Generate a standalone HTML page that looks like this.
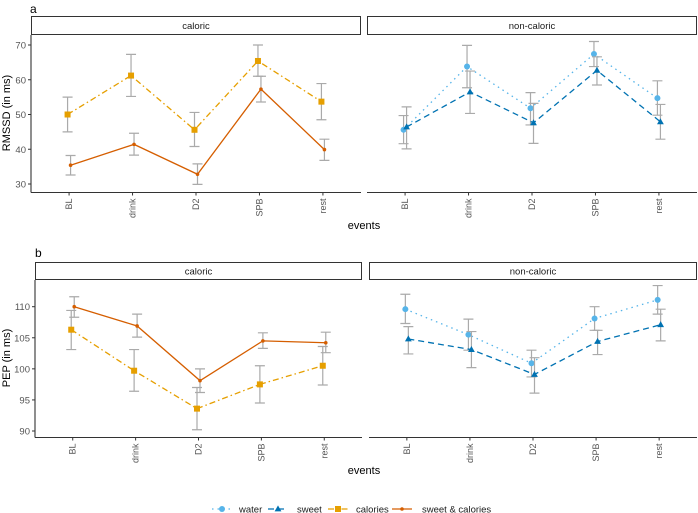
<!DOCTYPE html>
<html><head><meta charset="utf-8"><style>
body{margin:0;background:#fff;}
svg{display:block;font-family:"Liberation Sans",sans-serif;}
</style></head><body>
<svg id="chart" width="698" height="513" xmlns="http://www.w3.org/2000/svg"></svg>
<script>
const categories = ["BL","drink","D2","SPB","rest"];
// Panel a (RMSSD)
const aCalories = [50.0,61.2,45.6,65.4,53.7];
const aCaloriesLo = [45.0,55.2,40.8,61.0,48.5];
const aCaloriesHi = [55.0,67.3,50.6,70.0,58.9];
const aSweetCal = [35.4,41.4,32.8,57.3,39.9];
const aSweetCalLo = [32.6,38.3,29.9,53.6,36.8];
const aSweetCalHi = [38.2,44.6,35.8,61.0,42.9];
const aWater = [45.6,63.8,51.8,67.4,54.7];
const aWaterLo = [41.6,57.7,47.0,63.8,49.8];
const aWaterHi = [49.7,69.9,56.3,71.0,59.7];
const aSweet = [46.4,56.5,47.6,62.7,47.9];
const aSweetLo = [40.1,50.3,41.7,58.5,42.9];
const aSweetHi = [52.2,62.5,53.2,66.6,52.9];
const aTicks = [30,40,50,60,70];
// Panel b (PEP)
const bCalories = [106.3,99.7,93.6,97.5,100.5];
const bCaloriesLo = [103.1,96.4,90.2,94.5,97.4];
const bCaloriesHi = [109.4,103.1,97.0,100.5,103.6];
const bSweetCal = [110.0,106.9,98.1,104.5,104.2];
const bSweetCalLo = [108.3,105.1,96.2,103.3,102.6];
const bSweetCalHi = [111.6,108.8,100.0,105.8,105.9];
const bWater = [109.6,105.5,100.9,108.1,111.1];
const bWaterLo = [107.3,103.0,98.7,106.2,108.8];
const bWaterHi = [112.0,108.0,103.0,110.0,113.4];
const bSweet = [104.8,103.1,99.1,104.4,107.1];
const bSweetLo = [102.4,100.2,96.1,102.3,104.5];
const bSweetHi = [106.8,106.0,101.8,106.2,109.6];
const bTicks = [90,95,100,105,110];

const svg = document.getElementById('chart');
const NS = "http://www.w3.org/2000/svg";
function mk(tag, attrs, parent){const e=document.createElementNS(NS,tag);for(const k in attrs)e.setAttribute(k,attrs[k]);(parent||svg).appendChild(e);return e;}
const COL = {water:"#56B4E9", sweet:"#0072B2", calories:"#E69F00", sc:"#D55E00"};
const DASH = {water:"1.5 4", sweet:"6 4", calories:"6 3 1.5 3", sc:""};

function txt(x,y,s,attrs,name){const t=mk('text',Object.assign({x:x,y:y},attrs));t.textContent=s;


return t;}

function panel(p){
  // p: {x0,x1,yTop,yBot,strip, yScale, showY, ticks, series:[{vals,lo,hi,key,off}], name}
  const g = mk('g',{});
  
  
  const s = mk('rect',{x:p.x0+0.5,y:p.stripY+0.5,width:p.x1-p.x0-1,height:p.stripH,fill:"#fff",stroke:"#333","stroke-width":1},g);
  
  
  const st = txt((p.x0+p.x1)/2,p.stripY+p.stripH/2+4,p.strip,{"font-size":9.5,"text-anchor":"middle",fill:"#1a1a1a"},'strip-label');
  g.appendChild(st);
  const step=(p.x1-p.x0)/5.2;
  const xS=i=>p.x0+step*(0.6+i);
  const ax=mk('line',{x1:p.x0,x2:p.x1,y1:p.yBot,y2:p.yBot,stroke:"#333","stroke-width":1.1},g);
  
  
  categories.forEach((c,i)=>{
    mk('line',{x1:xS(i),x2:xS(i),y1:p.yBot,y2:p.yBot+3,stroke:"#333"},g);
    const t=txt(0,0,c,{"font-size":9,fill:"#555","text-anchor":"end",transform:`translate(${xS(i)+3},${p.yBot+6}) rotate(-90)`},'x-tick-label');
    g.appendChild(t);
  });
  if(p.showY){
    const ay=mk('line',{x1:p.x0,x2:p.x0,y1:p.stripY+p.stripH+1,y2:p.yBot,stroke:"#333","stroke-width":1.1},g);
    
    
    p.ticks.forEach(v=>{
      const y=p.yScale(v);
      mk('line',{x1:p.x0-3,x2:p.x0,y1:y,y2:y,stroke:"#333"},g);
      g.appendChild(txt(p.x0-5,y+3.5,String(v),{"font-size":9.5,fill:"#555","text-anchor":"end"},'y-tick-label'));
    });
  }
  p.series.forEach(sr=>{
    const sg=mk('g',{},g);
    
    
    sr.vals.forEach((v,i)=>{
      const x=xS(i)+sr.off, yl=p.yScale(sr.lo[i]), yh=p.yScale(sr.hi[i]);
      mk('path',{d:`M${x-5},${yh}H${x+5}M${x},${yh}V${yl}M${x-5},${yl}H${x+5}`,stroke:"#aaa","stroke-width":1.2,fill:"none"},sg);
    });
    const d=sr.vals.map((v,i)=>(i?'L':'M')+(xS(i)+sr.off)+','+p.yScale(v)).join('');
    mk('path',{d:d,stroke:COL[sr.key],"stroke-width":1.3,fill:"none","stroke-dasharray":DASH[sr.key]},sg);
    sr.vals.forEach((v,i)=>{
      const x=xS(i)+sr.off,y=p.yScale(v);
      marker(sr.key,x,y,sg);
    });
  });
}
function marker(key,x,y,parent){
  let m;
  if(key==='water') m=mk('circle',{cx:x,cy:y,r:3,fill:COL.water},parent);
  else if(key==='sweet') m=mk('path',{d:`M${x},${y-3.6}L${x+3.4},${y+2.4}L${x-3.4},${y+2.4}Z`,fill:COL.sweet},parent);
  else if(key==='calories') m=mk('rect',{x:x-3,y:y-3,width:6,height:6,fill:COL.calories},parent);
  else m=mk('circle',{cx:x,cy:y,r:1.8,fill:COL.sc},parent);
  
  
}
const yA=v=>184-(v-30)*3.475;
const yB=v=>306.7+(110-v)*6.215;
panel({name:'panel-a-caloric',x0:31,x1:361,stripY:16,stripH:18,yBot:192.5,strip:'caloric',yScale:yA,showY:true,ticks:aTicks,
 series:[{key:'calories',vals:aCalories,lo:aCaloriesLo,hi:aCaloriesHi,off:-1.5},{key:'sc',vals:aSweetCal,lo:aSweetCalLo,hi:aSweetCalHi,off:1.5}]});
panel({name:'panel-a-non-caloric',x0:367,x1:697,stripY:16,stripH:18,yBot:192.5,strip:'non-caloric',yScale:yA,showY:false,
 series:[{key:'water',vals:aWater,lo:aWaterLo,hi:aWaterHi,off:-1.5},{key:'sweet',vals:aSweet,lo:aSweetLo,hi:aSweetHi,off:1.5}]});
panel({name:'panel-b-caloric',x0:35,x1:362,stripY:262,stripH:17,yBot:437.5,strip:'caloric',yScale:yB,showY:true,ticks:bTicks,
 series:[{key:'calories',vals:bCalories,lo:bCaloriesLo,hi:bCaloriesHi,off:-1.5},{key:'sc',vals:bSweetCal,lo:bSweetCalLo,hi:bSweetCalHi,off:1.5}]});
panel({name:'panel-b-non-caloric',x0:369,x1:697,stripY:262,stripH:17,yBot:437.5,strip:'non-caloric',yScale:yB,showY:false,
 series:[{key:'water',vals:bWater,lo:bWaterLo,hi:bWaterHi,off:-1.5},{key:'sweet',vals:bSweet,lo:bSweetLo,hi:bSweetHi,off:1.5}]});

txt(30,13,'a',{"font-size":12,fill:"#000"},'panel-a-tag');
txt(35,257,'b',{"font-size":12,fill:"#000"},'panel-b-tag');
txt(364,229,'events',{"font-size":11,fill:"#000","text-anchor":"middle"},'x-axis-title-a');
txt(364,474,'events',{"font-size":11,fill:"#000","text-anchor":"middle"},'x-axis-title-b');
txt(0,0,'RMSSD (in ms)',{"font-size":11,fill:"#000","text-anchor":"middle",transform:"translate(10,113) rotate(-90)"},'y-axis-title-a');
txt(0,0,'PEP (in ms)',{"font-size":11,fill:"#000","text-anchor":"middle",transform:"translate(10,358) rotate(-90)"},'y-axis-title-b');

// legend
const legItems=[["water","water",212,239],["sweet","sweet",268,297],["calories","calories",328,356],["sc","sweet & calories",392,422]];
legItems.forEach(([k,label,kx,tx])=>{
  const g=mk('g',{});
  
  
  mk('line',{x1:kx,x2:kx+20,y1:509,y2:509,stroke:COL[k],"stroke-width":1.3,"stroke-dasharray":DASH[k]},g);
  marker(k,kx+10,509,g);
  g.appendChild(txt(tx,512.5,label,{"font-size":9.5,fill:"#1a1a1a"},'legend-label'));
});
</script>
</body></html>
